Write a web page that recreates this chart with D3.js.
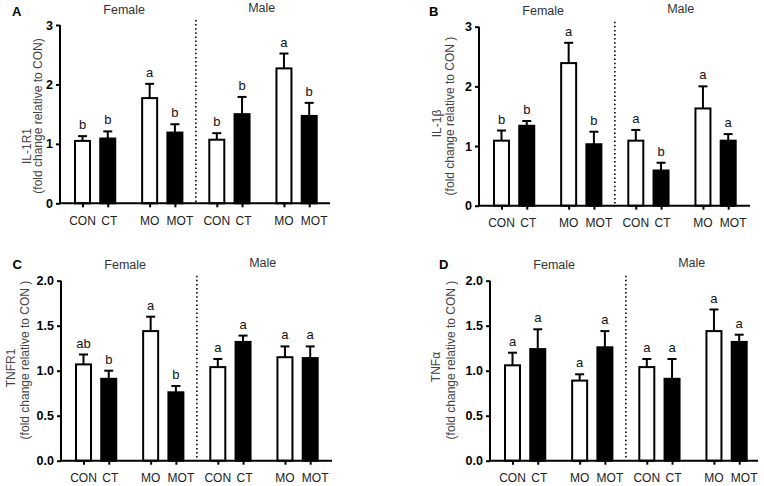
<!DOCTYPE html>
<html>
<head>
<meta charset="utf-8">
<script src="https://cdn.jsdelivr.net/npm/d3@7"></script>
<style>
  body { margin: 0; background: #fff; }
  svg { display: block; font-family: "Liberation Sans", Arial, sans-serif; }
</style>
</head>
<body>
<svg id="svg" width="764" height="486"></svg>
<script>
// groups along x (female four, then male four)
var groups = ["CON", "CT", "MO", "MOT", "CON", "CT", "MO", "MOT"];
var sexes = ["Female", "Male"];

// A: IL-1R1
var il1r1Mean = [1.05, 1.09, 1.77, 1.19, 1.07, 1.50, 2.27, 1.47];
var il1r1Sem  = [0.08, 0.12, 0.24, 0.14, 0.11, 0.29, 0.25, 0.22];
var il1r1Sig  = ["b", "b", "a", "b", "b", "b", "a", "b"];

// B: IL-1beta
var il1bMean = [1.09, 1.34, 2.39, 1.03, 1.09, 0.59, 1.63, 1.09];
var il1bSem  = [0.17, 0.08, 0.34, 0.21, 0.18, 0.13, 0.37, 0.11];
var il1bSig  = ["b", "b", "a", "b", "a", "b", "a", "a"];

// C: TNFR1
var tnfr1Mean = [1.07, 0.91, 1.44, 0.76, 1.04, 1.32, 1.15, 1.14];
var tnfr1Sem  = [0.11, 0.09, 0.16, 0.07, 0.09, 0.07, 0.12, 0.13];
var tnfr1Sig  = ["ab", "b", "a", "b", "a", "a", "a", "a"];

// D: TNFalpha
var tnfaMean = [1.06, 1.24, 0.89, 1.26, 1.04, 0.91, 1.44, 1.32];
var tnfaSem  = [0.14, 0.22, 0.07, 0.18, 0.09, 0.22, 0.24, 0.08];
var tnfaSig  = ["a", "a", "a", "a", "a", "a", "a", "a"];

var ticks3 = [0, 1, 2, 3];
var ticks2 = [0, 0.5, 1.0, 1.5, 2.0];

var panels = [
  {tag: "A", tagX: 12, tagY: 15.5, mean: il1r1Mean, sem: il1r1Sem, sig: il1r1Sig,
   ticks: ticks3, fmt: "d", max: 3, x0: 60, x1: 330, top: 25, bottom: 203.3,
   title: ["IL-1R1", "(fold change relative to CON)"], t1: [27, 146], t2: [38, 116]},
  {tag: "B", tagX: 429, tagY: 16, mean: il1bMean, sem: il1bSem, sig: il1bSig,
   ticks: ticks3, fmt: "d", max: 3, x0: 479, x1: 750, top: 26.7, bottom: 205.7,
   title: ["IL-1\u03B2", "(fold change relative to CON )"], t1: [437, 123.5], t2: [450, 116]},
  {tag: "C", tagX: 12.5, tagY: 269, mean: tnfr1Mean, sem: tnfr1Sem, sig: tnfr1Sig,
   ticks: ticks2, fmt: ".1f", max: 2, x0: 61, x1: 332, top: 280.7, bottom: 460.7,
   title: ["TNFR1", "(fold change relative to CON )"], t1: [11, 368], t2: [25, 360]},
  {tag: "D", tagX: 439, tagY: 269, mean: tnfaMean, sem: tnfaSem, sig: tnfaSig,
   ticks: ticks2, fmt: ".1f", max: 2, x0: 490, x1: 758, top: 280.7, bottom: 460.7,
   title: ["TNF\u03B1", "(fold change relative to CON )"], t1: [436, 367], t2: [451, 360]}
];

var svg = d3.select("#svg");
svg.append("rect").attr("width", 764).attr("height", 486).attr("fill", "#fff");

var labelNudge = [0, 1.5, 0, 5];

function slot(i) { return i + 0.66 * Math.floor(i / 2); }

panels.forEach(function(p) {
  var g = svg.append("g");

  var x = d3.scaleLinear().domain([0, 8.98]).range([p.x0 + 22.5, p.x0 + 249.2]);
  var y = d3.scaleLinear().domain([0, p.max]).range([p.bottom, p.top]);

  // panel tag
  g.append("text").attr("x", p.tagX).attr("y", p.tagY)
    .attr("font-size", 13).attr("font-weight", "bold").text(p.tag);

  // sex headers
  [1.65, 7.1].forEach(function(s, k) {
    g.append("text").attr("x", x(s)).attr("y", p.top - (k === 0 ? 11.5 : 13.5))
      .attr("text-anchor", "middle").attr("font-size", 12.5).attr("fill", "#333")
      .text(sexes[k]);
  });

  // y title (two lines)
  [p.t1, p.t2].forEach(function(pos, k) {
    g.append("text")
      .attr("transform", "translate(" + pos[0] + "," + pos[1] + ") rotate(-90)")
      .attr("text-anchor", "middle").attr("dy", "0.35em")
      .attr("font-size", 12).attr("fill", "#444")
      .text(p.title[k]);
  });

  // dotted divider
  g.append("line")
    .attr("x1", x(4.49)).attr("x2", x(4.49))
    .attr("y1", p.top - 5).attr("y2", p.bottom)
    .attr("stroke", "#111").attr("stroke-width", 1.7)
    .attr("stroke-dasharray", "1.5,2.6");

  // bars
  var bw = 15;
  g.selectAll(".bar").data(p.mean).enter().append("rect")
    .attr("x", function(d, i) { return x(slot(i)) - bw / 2; })
    .attr("y", function(d) { return y(d); })
    .attr("width", bw)
    .attr("height", function(d) { return y(0) - y(d); })
    .attr("fill", function(d, i) { return i % 2 === 0 ? "#fff" : "#000"; })
    .attr("stroke", "#000").attr("stroke-width", 2);

  // error bars (upper only)
  p.mean.forEach(function(m, i) {
    var cx = x(slot(i)), yt = y(m + p.sem[i]);
    g.append("line").attr("x1", cx).attr("x2", cx)
      .attr("y1", y(m)).attr("y2", yt)
      .attr("stroke", "#000").attr("stroke-width", 2);
    g.append("line").attr("x1", cx - 4.5).attr("x2", cx + 4.5)
      .attr("y1", yt).attr("y2", yt)
      .attr("stroke", "#000").attr("stroke-width", 2);
    g.append("text").attr("x", cx).attr("y", yt - 7)
      .attr("text-anchor", "middle").attr("font-size", 13).attr("fill", "#111")
      .text(p.sig[i]);
  });

  // y axis
  var yAxis = g.append("g")
    .attr("transform", "translate(" + p.x0 + ",0)")
    .call(d3.axisLeft(y).tickValues(p.ticks).tickFormat(d3.format(p.fmt))
      .tickSize(4).tickPadding(3));
  yAxis.select(".domain").attr("stroke-width", 2).attr("d", "M0," + p.top + "V" + p.bottom);
  yAxis.selectAll(".tick line").attr("stroke-width", 2);
  yAxis.selectAll(".tick text").attr("font-size", 12.5).attr("font-weight", "bold")
    .attr("font-family", "Liberation Sans, Arial, sans-serif").attr("fill", "#000");

  // x axis
  var xAxis = g.append("g")
    .attr("transform", "translate(0," + p.bottom + ")")
    .call(d3.axisBottom(x).tickValues(groups.map(function(d, i) { return slot(i); }))
      .tickFormat("").tickSize(4));
  xAxis.select(".domain").attr("stroke-width", 2).attr("d", "M" + p.x0 + ",0H" + p.x1);
  xAxis.selectAll(".tick line").attr("stroke-width", 2);

  groups.forEach(function(name, i) {
    g.append("text").attr("x", x(slot(i)) + labelNudge[i % 4]).attr("y", p.bottom + 21.7)
      .attr("text-anchor", "middle").attr("font-size", 12).attr("fill", "#222")
      .text(name);
  });
});
</script>
</body>
</html>
